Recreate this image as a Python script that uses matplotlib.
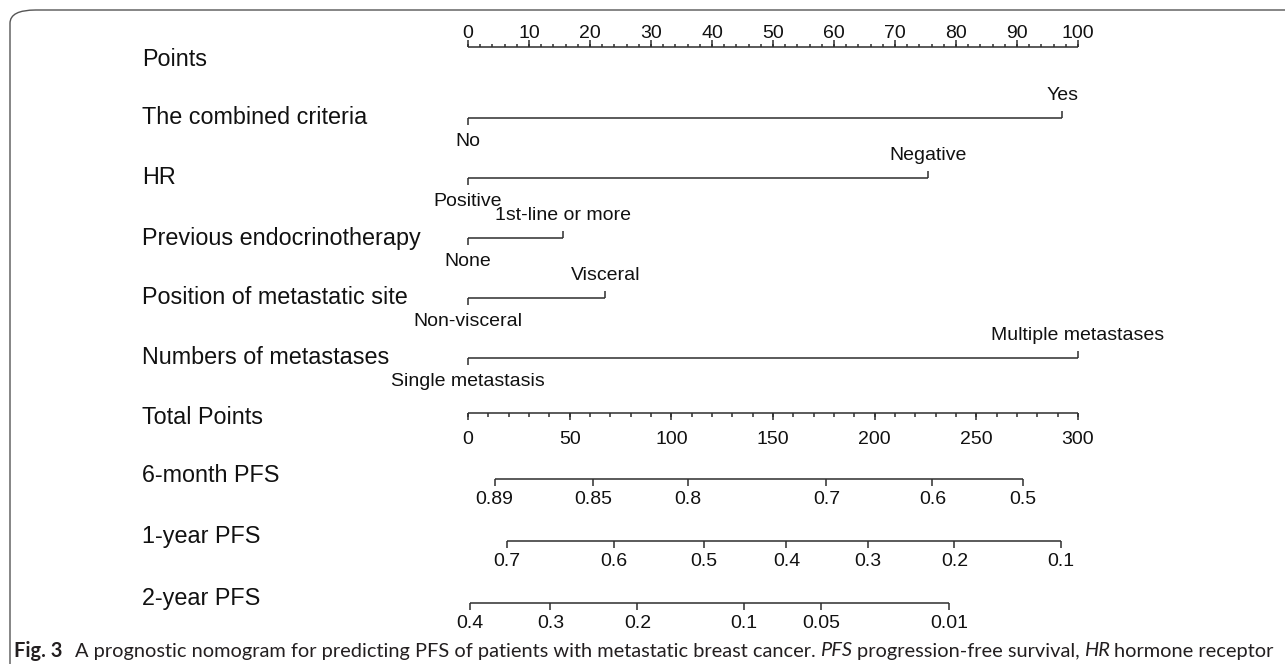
import matplotlib
matplotlib.use("Agg")
import matplotlib.pyplot as plt
from matplotlib.patches import FancyBboxPatch

# --- data ---
point_ticks = [0, 10, 20, 30, 40, 50, 60, 70, 80, 90, 100]
point_minor = list(range(0, 101, 2))

var_names = ["The combined criteria", "HR", "Previous endocrinotherapy",
             "Position of metastatic site", "Numbers of metastases"]
var_levels = [["No", "Yes"], ["Positive", "Negative"], ["None", "1st-line or more"],
              ["Non-visceral", "Visceral"], ["Single metastasis", "Multiple metastases"]]
var_points = [[0, 97.4], [0, 75.4], [0, 15.6], [0, 22.5], [0, 100]]

total_ticks = [0, 50, 100, 150, 200, 250, 300]
total_minor = list(range(0, 301, 10))

pfs_names = ["6-month PFS", "1-year PFS", "2-year PFS"]
pfs_labels = [["0.89", "0.85", "0.8", "0.7", "0.6", "0.5"],
              ["0.7", "0.6", "0.5", "0.4", "0.3", "0.2", "0.1"],
              ["0.4", "0.3", "0.2", "0.1", "0.05", "0.01"]]
pfs_total = [[13.1, 61.6, 108.0, 176.3, 228.4, 273.1],
             [19.3, 71.7, 116.0, 156.6, 196.7, 239.2, 291.5],
             [0.9, 40.5, 83.3, 135.7, 173.8, 236.7]]

caption = [("Fig. 3", "bold", "normal"),
           ("A prognostic nomogram for predicting PFS of patients with metastatic breast cancer.", "normal", "normal"),
           ("PFS", "normal", "italic"), ("progression-free survival,", "normal", "normal"),
           ("HR", "normal", "italic"), ("hormone receptor", "normal", "normal")]

# --- layout (pixels) ---
W, H = 1285, 664
X0, X1 = 468, 1078          # where 0 and 100 points sit
LABEL_X = 142
points_y = 47
var_y = [118, 178, 238, 298, 358]
total_y = 413
pfs_y = [479, 541, 603]

LINE = "#2e2e2e"
TXT = "#111111"
plt.rcParams["font.family"] = ["Liberation Sans", "DejaVu Sans"]

fig = plt.figure(figsize=(W / 100, H / 100), dpi=100)
ax = fig.add_axes([0, 0, 1, 1])
scale = (X1 - X0) / 100
ax.set_xlim(-X0 / scale, (W - X0) / scale)
ax.set_ylim(H, 0)
ax.axis("off")

lw = 1.1
NUM_FS = 14
LEV_FS = 14


def seg(x, y):
    ax.plot(x, y, color=LINE, lw=lw, solid_capstyle="butt")


def row_label(text, y):
    ax.text(LABEL_X / W, 1 - y / H, text, transform=ax.transAxes,
            fontsize=16.8, color=TXT, ha="left", va="center")


# Points ruler (ticks up, labels above)
seg([point_ticks[0], point_ticks[-1]], [points_y, points_y])
for m in point_minor:
    seg([m, m], [points_y, points_y - 3.5])
for t in point_ticks:
    seg([t, t], [points_y, points_y - 7])
    ax.text(t, points_y - 14, str(t), fontsize=NUM_FS, ha="center", va="center", color=TXT)
row_label("Points", points_y + 12)

# predictor rows
for name, levels, pts, y in zip(var_names, var_levels, var_points, var_y):
    row_label(name, y)
    seg([pts[0], pts[1]], [y, y])
    seg([pts[0], pts[0]], [y, y + 7])
    seg([pts[1], pts[1]], [y, y - 7])
    ax.text(pts[0], y + 24, levels[0], fontsize=LEV_FS, ha="center", va="center", color=TXT)
    ax.text(pts[1], y - 23, levels[1], fontsize=LEV_FS, ha="center", va="center", color=TXT)

# Total points ruler (ticks down, labels below); 300 total = 100 points
seg([0, total_ticks[-1] / 3], [total_y, total_y])
for m in total_minor:
    seg([m / 3, m / 3], [total_y, total_y + 3.5])
for t in total_ticks:
    seg([t / 3, t / 3], [total_y, total_y + 7])
    ax.text(t / 3, total_y + 27, str(t), fontsize=NUM_FS, ha="center", va="center", color=TXT)
row_label("Total Points", total_y + 5)

# survival probability rows
for name, labs, tp, y in zip(pfs_names, pfs_labels, pfs_total, pfs_y):
    row_label(name, y - 4)
    xs = [v / 3 for v in tp]
    seg([xs[0], xs[-1]], [y, y])
    for x, lab in zip(xs, labs):
        seg([x, x], [y, y + 7])
        ax.text(x, y + 21, lab, fontsize=NUM_FS, ha="center", va="center", color=TXT)

# panel frame with rounded top-left corner
frame = FancyBboxPatch((10 / W, -0.2), 1.2, 1.2 - 10 / H,
                       boxstyle="round,pad=0,rounding_size=0.02",
                       transform=fig.transFigure, fill=False,
                       edgecolor="#555555", lw=1.0)
fig.patches.append(frame)

# caption, piece by piece, sized to span the panel width
CAP = "#231f20"
renderer = fig.canvas.get_renderer()
cap_y = 1 - 651 / H


def draw_caption(size):
    x = 14
    items = []
    for i, (txt, weight, style) in enumerate(caption):
        t = fig.text(x / W, cap_y, txt, fontsize=size, fontweight=weight, fontstyle=style,
                     family=["Lato", "DejaVu Sans"], color=CAP, ha="left", va="center")
        items.append(t)
        bb = t.get_window_extent(renderer)
        gap = size * 0.85 if i == 0 else size * 0.32
        x = bb.x1 + gap
    return items, x - gap


items, right = draw_caption(12.0)
for t in items:
    t.remove()
draw_caption(12.0 * (1267 - 14) / (right - 14))

fig.savefig("out.png", dpi=100, facecolor="white")
